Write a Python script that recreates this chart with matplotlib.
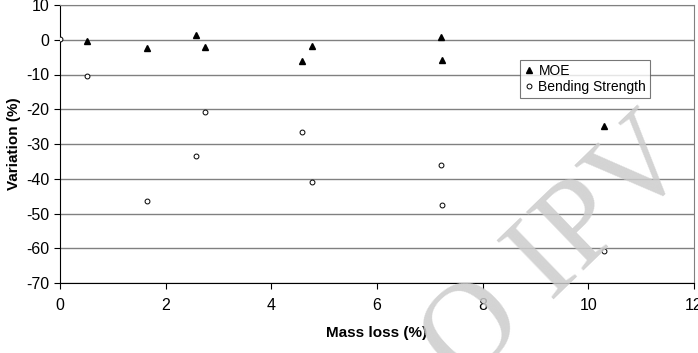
import numpy as np
import matplotlib.pyplot as plt

plt.rcParams['font.family'] = ['Liberation Sans', 'DejaVu Sans']
plt.rcParams['axes.unicode_minus'] = False

mass_loss = [0.51, 1.64, 2.57, 2.74, 4.58, 4.77, 7.21, 7.23, 10.3]
moe = [-0.4, -2.4, 1.4, -2.1, -6.1, -1.8, 0.8, -5.8, -24.8]

mass_loss_bs = [0.0, 0.51, 1.64, 2.57, 2.74, 4.58, 4.77, 7.21, 7.23, 10.3]
bending = [0.2, -10.4, -46.4, -33.5, -20.8, -26.5, -40.9, -36.0, -47.5, -60.8]

xticks = np.arange(0, 13, 2)
yticks = np.arange(-70, 11, 10)

fig = plt.figure(figsize=(6.98, 3.53), dpi=100)
ax = fig.add_axes([60 / 698, 1 - 283 / 353, 634 / 698, 278 / 353])

for y in yticks:
    ax.axhline(y, color='#808080', lw=1, zorder=1)

ax.plot(mass_loss, moe, linestyle='none', marker='^', ms=5,
        color='black', label='MOE', zorder=3)
ax.plot(mass_loss_bs, bending, linestyle='none', marker='o', ms=3.5,
        mfc='white', mec='black', mew=0.7, label='Bending Strength', zorder=3)

ax.set_xlim(0, 12)
ax.set_ylim(-70, 10)
ax.set_xticks(xticks)
ax.set_yticks(yticks)
ax.tick_params(labelsize=11.5, direction='out', length=4, width=0.8,
               colors='black')
ax.tick_params(axis='x', pad=7)
for side in ['top', 'right']:
    ax.spines[side].set_color('#808080')
for side in ['left', 'bottom']:
    ax.spines[side].set_color('black')

ax.set_xlabel('Mass loss (%)', fontsize=11, fontweight='bold', labelpad=9)
ax.set_ylabel('Variation (%)', fontsize=11, fontweight='bold', labelpad=4)

leg = ax.legend(loc='upper left', bbox_to_anchor=(0.725, 0.802),
                fontsize=10, frameon=True, fancybox=False,
                borderpad=0.25, handlelength=0.8, handletextpad=0.3,
                labelspacing=0.2, borderaxespad=0)
leg.get_frame().set_edgecolor('#555555')
leg.get_frame().set_linewidth(0.8)

# watermark
fig.text(0.80, 0.285, 'O IPV', rotation=44, fontsize=90,
         family='Liberation Serif', color='#cccccc', alpha=0.85,
         ha='center', va='center', zorder=10)

fig.savefig('out.png', dpi=100)
